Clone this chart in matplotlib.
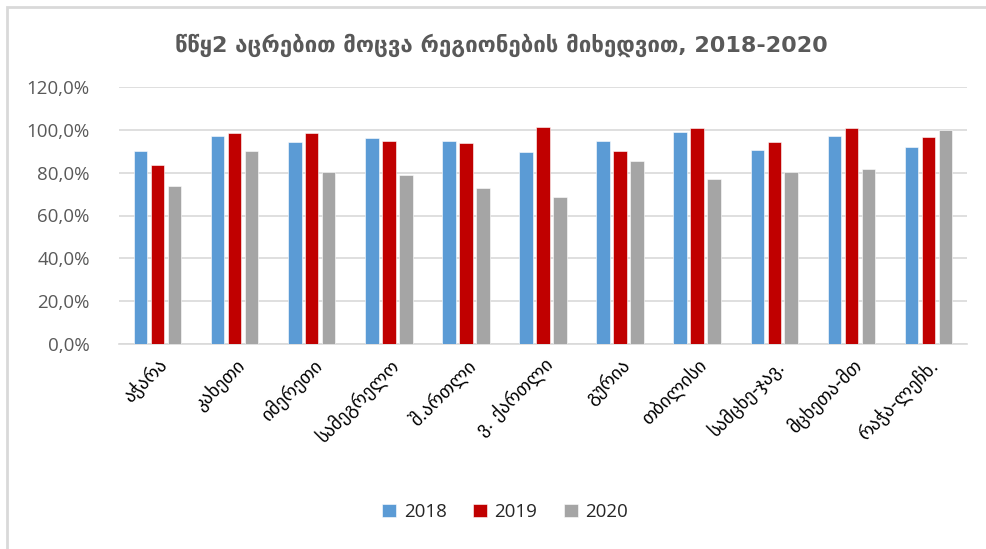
import matplotlib
matplotlib.use("Agg")
import matplotlib.pyplot as plt
import numpy as np
from matplotlib.patches import Rectangle
from matplotlib.ticker import FuncFormatter

regions = ["აჭარა", "კახეთი", "იმერეთი", "სამეგრელო", "შ.ართლი", "ვ. ქართლი",
           "გურია", "თბილისი", "სამცხე-ჯავ.", "მცხეთა-მთ", "რაჭა-ლეჩხ."]
years = ["2018", "2019", "2020"]
vals_2018 = [90.1, 97.2, 94.3, 96.0, 94.9, 89.5, 94.9, 99.1, 90.7, 97.2, 92.0]
vals_2019 = [83.6, 98.5, 98.5, 94.9, 93.7, 101.4, 90.1, 100.9, 94.3, 100.9, 96.8]
vals_2020 = [74.0, 90.1, 80.1, 78.8, 72.8, 68.6, 85.3, 77.0, 80.1, 81.8, 99.7]

colors = ["#5B9BD5", "#C00000", "#A5A5A5"]
grid_col = "#D9D9D9"
text_col = "#595959"

fig = plt.figure(figsize=(9.87, 5.49), dpi=100)
ax = fig.add_axes([119 / 987, 1 - 344 / 549, (967 - 119) / 987, (344 - 87) / 549])

x = np.arange(len(regions))
width = 0.175
step = 0.22
for k, (yr, vals) in enumerate(zip(years, [vals_2018, vals_2019, vals_2020])):
    ax.bar(x + (k - 1) * step, vals, width, color=colors[k], label=yr,
           edgecolor="white", linewidth=0.4, zorder=3)

ax.set_xlim(-0.5, len(regions) - 0.5)
ax.set_ylim(0, 120)
ax.set_yticks(np.arange(0, 121, 20))
ax.yaxis.set_major_formatter(FuncFormatter(lambda v, _: f"{v:.1f}%".replace(".", ",")))
ax.grid(axis="y", color=grid_col, linewidth=1.2, zorder=0)
for side in ["left", "right", "top"]:
    ax.spines[side].set_visible(False)
ax.spines["bottom"].set_color(grid_col)
ax.spines["bottom"].set_linewidth(1.2)
ax.tick_params(axis="y", length=0, pad=21, labelsize=13.5, labelcolor=text_col)
ax.tick_params(axis="x", length=0, pad=8)
ax.set_xticks(x)
ax.set_xticklabels(regions, rotation=45, ha="right", rotation_mode="anchor",
                   fontsize=13.5, color="black")
for lbl in ax.get_yticklabels():
    lbl.set_family("Open Sans")

fig.text(501 / 987, 1 - 45 / 549, "წწყ2 აცრებით მოცვა რეგიონების მიხედვით, 2018-2020",
         ha="center", va="center", fontsize=16, fontweight="bold", color=text_col)

leg = fig.legend(loc="center", bbox_to_anchor=(505 / 987, 1 - 512 / 549), ncol=3,
                 frameon=False, fontsize=13.5, handlelength=0.75, handleheight=0.75,
                 handletextpad=0.4, columnspacing=1.4)
for t in leg.get_texts():
    t.set_color("#262626")
    t.set_family("Open Sans")

fig.patches.append(Rectangle((7 / 987, -0.05), 1.1, 1 - 7 / 549 + 0.05,
                             transform=fig.transFigure, fill=False,
                             edgecolor="#D9D9D9", linewidth=2))

fig.savefig("out.png", dpi=100)
